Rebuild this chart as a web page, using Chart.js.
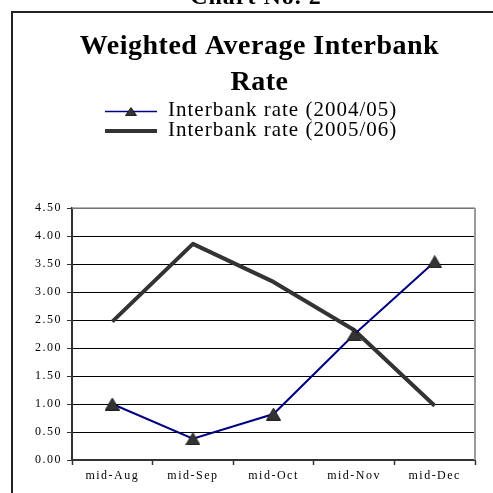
<!DOCTYPE html>
<html>
<head>
<meta charset="utf-8">
<title>Weighted Average Interbank Rate</title>
<script src="https://cdn.jsdelivr.net/npm/chart.js@4/dist/chart.umd.min.js"></script>
<style>
  html, body { margin: 0; padding: 0; background: #ffffff; }
  canvas { display: block; }
</style>
</head>
<body>
<canvas id="chart" width="493" height="493"></canvas>
<script>
// Category labels and series values (percent)
const categories = ['mid-Aug', 'mid-Sep', 'mid-Oct', 'mid-Nov', 'mid-Dec'];
const rate0405 = [1.00, 0.38, 0.82, 2.24, 3.54];
const rate0506 = [2.47, 3.86, 3.18, 2.32, 0.97];
const seriesLabels = ['Interbank rate (2004/05)', 'Interbank rate (2005/06)'];
const chartNumber = 'Chart No. 2';
const titleLines = ['Weighted Average Interbank', 'Rate'];

const SERIF = "'Liberation Serif', 'Times New Roman', serif";
const TICK_SPACING = '1.5px';

// Triangle marker used for the 2004/05 series
function makeTriangle(w, h) {
  const c = document.createElement('canvas');
  c.width = w; c.height = h;
  const g = c.getContext('2d');
  g.beginPath();
  g.moveTo(w / 2, 0.5);
  g.lineTo(w - 0.5, h - 0.5);
  g.lineTo(0.5, h - 0.5);
  g.closePath();
  g.fillStyle = '#333333';
  g.fill();
  g.strokeStyle = '#222222';
  g.lineWidth = 1;
  g.stroke();
  return c;
}
const triMarker = makeTriangle(15, 13);
const triLegend = makeTriangle(12, 9);

// Heading, legend, outer frame and plot-area border
const decorations = {
  id: 'decorations',
  beforeUpdate(chart) {
    chart.ctx.letterSpacing = TICK_SPACING;
  },
  beforeDraw(chart) {
    chart.ctx.letterSpacing = TICK_SPACING;
  },
  beforeDatasetsDraw(chart) {
    const { ctx, chartArea: a } = chart;
    ctx.save();
    ctx.strokeStyle = '#9a9a9a';
    ctx.lineWidth = 1.5;
    ctx.beginPath();
    ctx.moveTo(a.left, a.top);
    ctx.lineTo(a.right, a.top);
    ctx.stroke();
    ctx.lineWidth = 2;
    ctx.beginPath();
    ctx.moveTo(a.right, a.top);
    ctx.lineTo(a.right, a.bottom);
    ctx.stroke();
    ctx.restore();
  },
  afterDraw(chart) {
    const ctx = chart.ctx;
    ctx.save();
    // outer frame
    ctx.strokeStyle = '#222222';
    ctx.lineWidth = 2;
    ctx.strokeRect(12, 12, 700, 700);

    ctx.fillStyle = '#000000';
    ctx.textAlign = 'center';
    ctx.textBaseline = 'alphabetic';
    ctx.letterSpacing = '1px';
    ctx.font = 'bold 24px ' + SERIF;
    ctx.fillText(chartNumber, 256, 4);

    ctx.letterSpacing = '0.5px';
    ctx.font = 'bold 28px ' + SERIF;
    ctx.fillText(titleLines[0], 259.5, 53.5);
    ctx.fillText(titleLines[1], 259.5, 90);

    // legend
    const ds = chart.data.datasets;
    ctx.textAlign = 'left';
    ctx.letterSpacing = '1px';
    ctx.font = '21px ' + SERIF;

    ctx.strokeStyle = ds[0].borderColor;
    ctx.lineWidth = 1.5;
    ctx.beginPath();
    ctx.moveTo(105, 111.5);
    ctx.lineTo(157, 111.5);
    ctx.stroke();
    ctx.drawImage(triLegend, 131 - triLegend.width / 2, 111.5 - triLegend.height / 2);
    ctx.fillText(ds[0].label, 168, 115.7);

    ctx.strokeStyle = ds[1].borderColor;
    ctx.lineWidth = 4;
    ctx.beginPath();
    ctx.moveTo(105, 131);
    ctx.lineTo(157, 131);
    ctx.stroke();
    ctx.fillText(ds[1].label, 168, 135.7);
    ctx.restore();
  }
};

new Chart(document.getElementById('chart'), {
  type: 'line',
  data: {
    labels: categories,
    datasets: [
      {
        label: seriesLabels[0],
        data: rate0405,
        borderColor: '#000080',
        borderWidth: 2,
        pointStyle: triMarker,
        pointRadius: 7,
        pointHoverRadius: 7,
        tension: 0,
        order: 1
      },
      {
        label: seriesLabels[1],
        data: rate0506,
        borderColor: '#333333',
        borderWidth: 4,
        pointRadius: 0,
        pointHoverRadius: 0,
        borderJoinStyle: 'round',
        tension: 0,
        order: 2
      }
    ]
  },
  options: {
    responsive: false,
    animation: false,
    devicePixelRatio: 1,
    layout: { padding: { left: 0, right: 18, top: 208, bottom: 0 } },
    plugins: {
      legend: { display: false },
      title: { display: false },
      tooltip: { enabled: false }
    },
    scales: {
      x: {
        offset: true,
        afterFit(scale) { scale.height = 33; },
        grid: {
          offset: true,
          drawOnChartArea: false,
          drawTicks: true,
          tickLength: 5,
          tickColor: '#333333',
          tickWidth: 1.5
        },
        border: { display: true, color: '#333333', width: 2 },
        ticks: {
          color: '#000000',
          padding: 4,
          maxRotation: 0,
          autoSkip: false,
          font: { family: SERIF, size: 12 }
        }
      },
      y: {
        min: 0,
        max: 4.5,
        afterFit(scale) { scale.width = 72; },
        grid: {
          color: '#000000',
          lineWidth: 1,
          drawTicks: true,
          tickLength: 5,
          tickColor: '#333333'
        },
        border: { display: true, color: '#333333', width: 2 },
        ticks: {
          stepSize: 0.5,
          color: '#000000',
          padding: 5,
          font: { family: SERIF, size: 12 },
          callback: (v) => Number(v).toFixed(2)
        }
      }
    }
  },
  plugins: [decorations]
});
</script>
</body>
</html>
